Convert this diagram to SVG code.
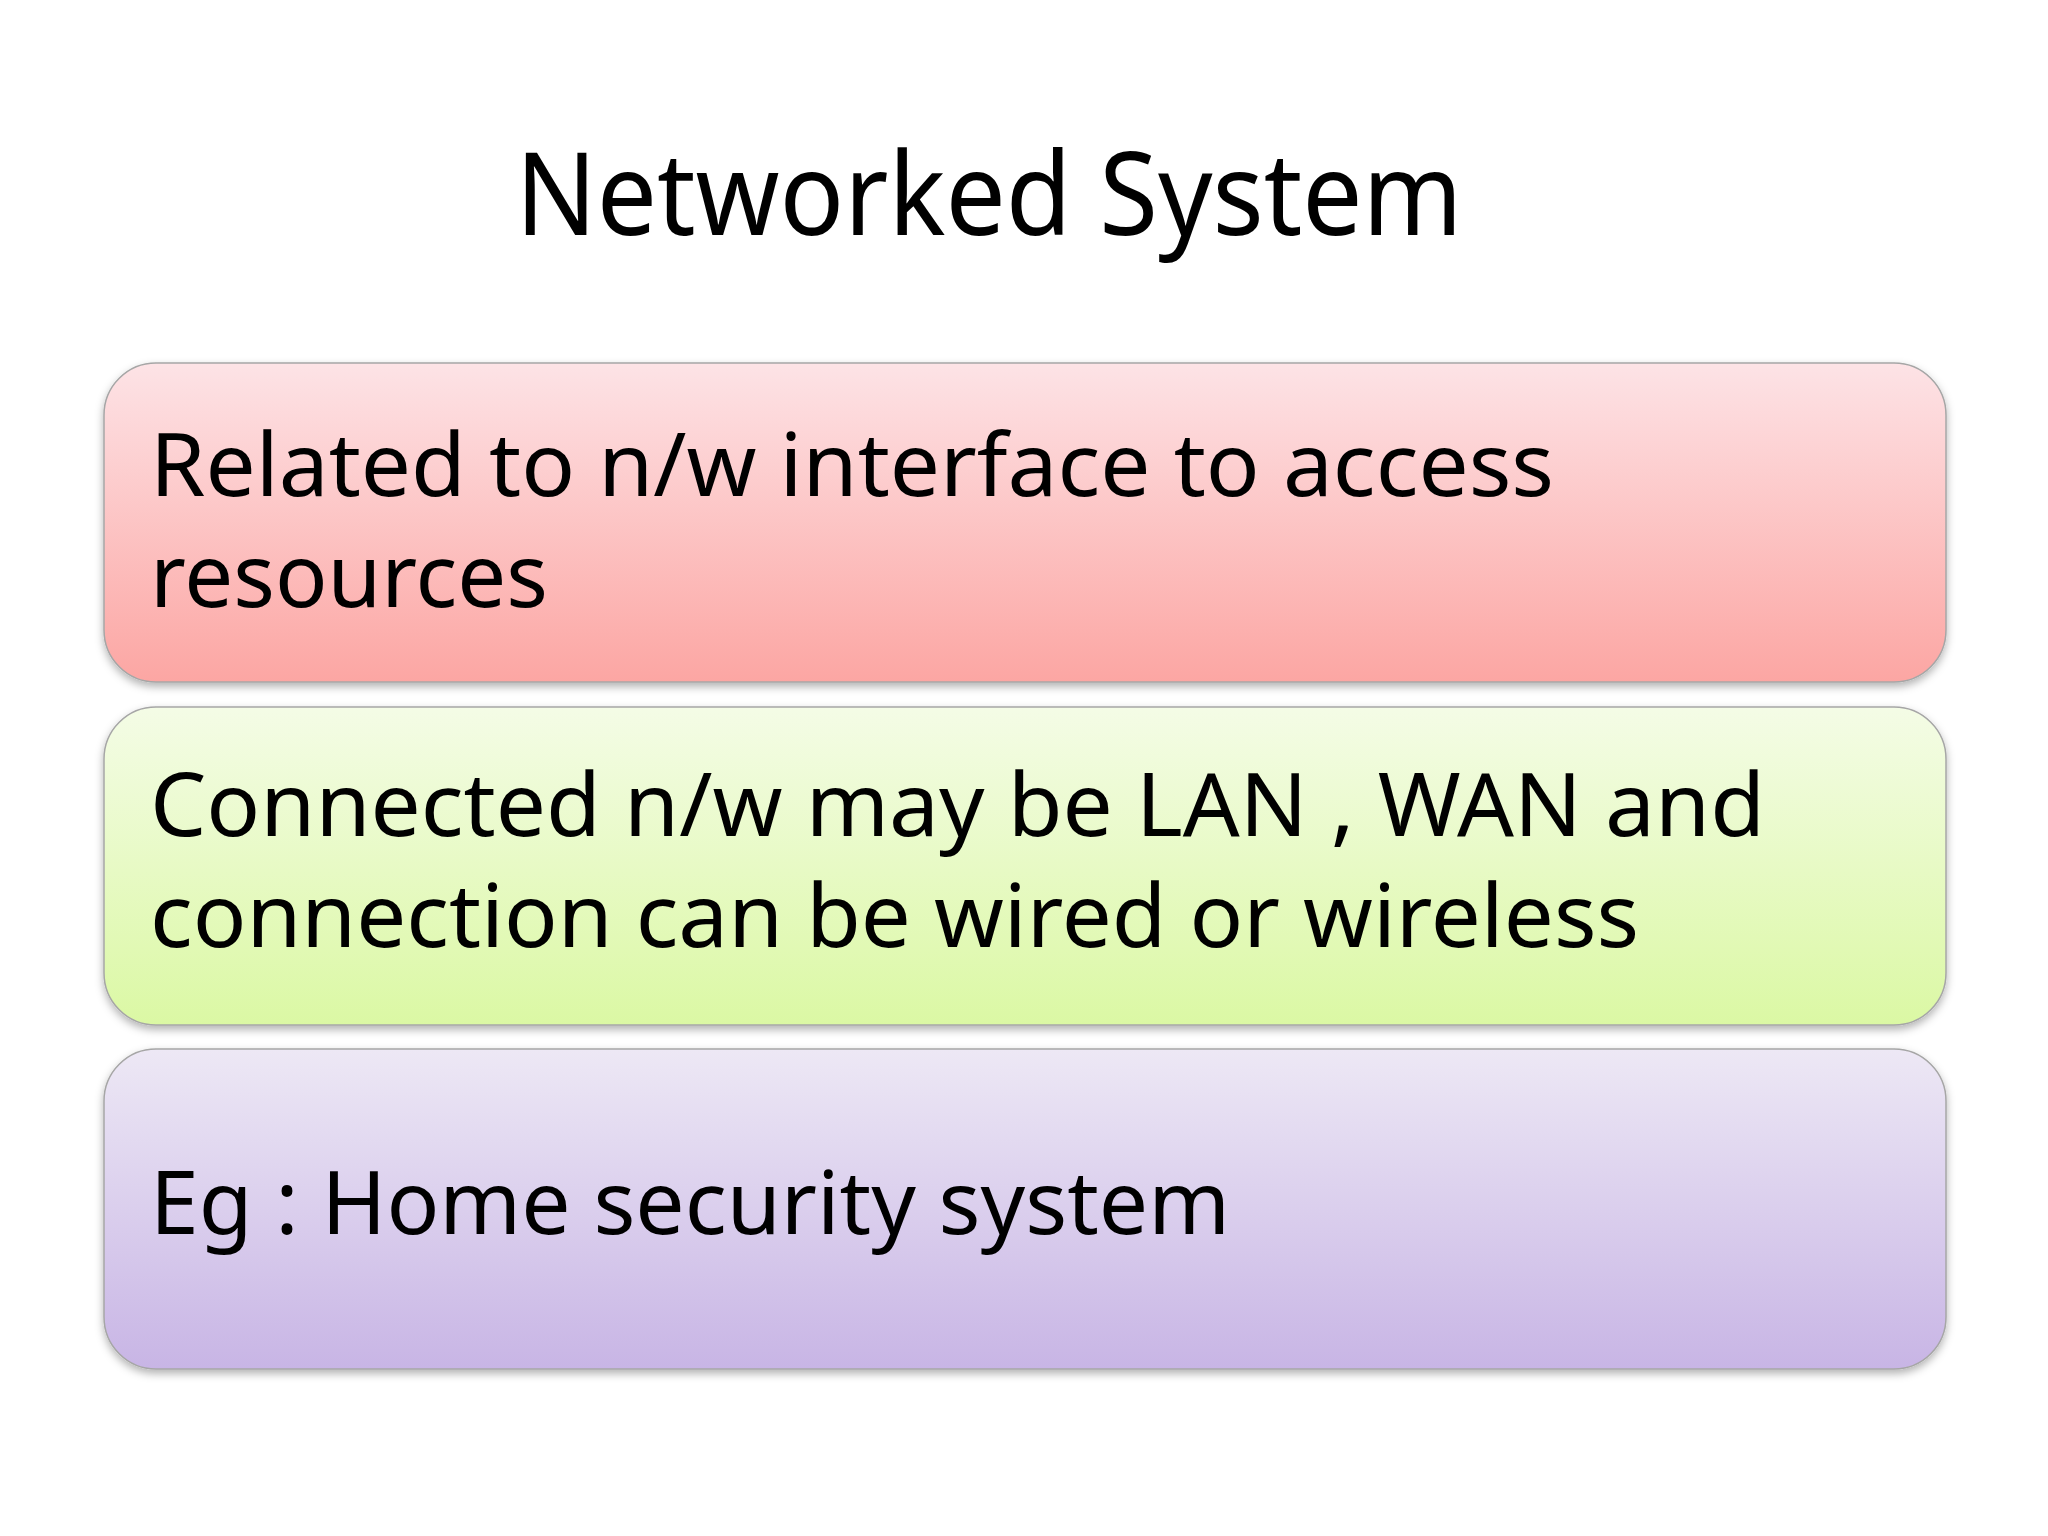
<svg xmlns="http://www.w3.org/2000/svg" width="2048" height="1536" viewBox="0 0 2048 1536">
<defs>
<linearGradient id="gr" x1="0" y1="0" x2="0" y2="1"><stop offset="0" stop-color="#fde3e6"/><stop offset="1" stop-color="#fca6a3"/></linearGradient>
<linearGradient id="gg" x1="0" y1="0" x2="0" y2="1"><stop offset="0" stop-color="#f4fce6"/><stop offset="1" stop-color="#dbf8a4"/></linearGradient>
<linearGradient id="gp" x1="0" y1="0" x2="0" y2="1"><stop offset="0" stop-color="#ede8f5"/><stop offset="1" stop-color="#c8b5e5"/></linearGradient>
<filter id="sh" x="-5%" y="-10%" width="110%" height="125%"><feDropShadow dx="0" dy="4" stdDeviation="4" flood-color="#000" flood-opacity="0.3"/></filter>
</defs>
<style>
.box{stroke:#a6a6a6;stroke-width:1.5;filter:url(#sh)}
.t{font-family:"Noto Sans","Open Sans",sans-serif;font-size:88px;fill:#000}
</style>
<rect width="2048" height="1536" fill="#fff"/>
<text x="989" y="235" text-anchor="middle" font-family="Noto Sans, Open Sans, sans-serif" font-size="116" textLength="947" lengthAdjust="spacingAndGlyphs">Networked System</text>
<g id="n1"><rect class="box" x="104" y="363" width="1842" height="319" rx="52" fill="url(#gr)"/>
<text class="t" x="150" y="496" textLength="1404" lengthAdjust="spacingAndGlyphs">Related to n/w interface to access</text>
<text class="t" x="150" y="607" textLength="398" lengthAdjust="spacingAndGlyphs">resources</text></g>
<g id="n2"><rect class="box" x="104" y="707" width="1842" height="318" rx="52" fill="url(#gg)"/>
<text class="t" x="150" y="836" textLength="1615" lengthAdjust="spacingAndGlyphs">Connected n/w may be LAN , WAN and</text>
<text class="t" x="150" y="947" textLength="1489" lengthAdjust="spacingAndGlyphs">connection can be wired or wireless</text></g>
<g id="n3"><rect class="box" x="104" y="1049" width="1842" height="320" rx="52" fill="url(#gp)"/>
<text class="t" x="150" y="1234" textLength="1080" lengthAdjust="spacingAndGlyphs">Eg : Home security system</text></g>
<g id="connectors"/>
</svg>
